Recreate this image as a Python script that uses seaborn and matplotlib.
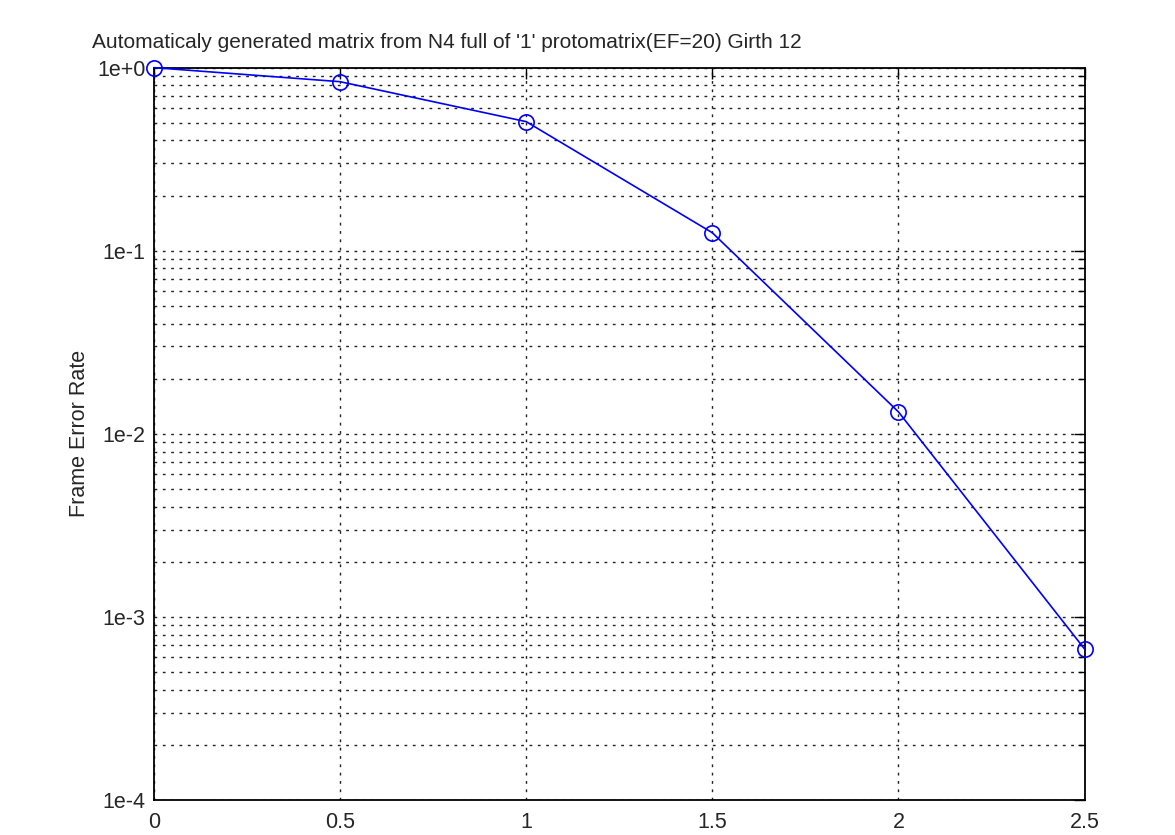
import numpy as np
import pandas as pd
import matplotlib
matplotlib.use('Agg')
import matplotlib.pyplot as plt
import seaborn as sns
from matplotlib.ticker import LogLocator, FixedLocator, FuncFormatter, NullFormatter


# FER curve
snr = [0.0, 0.5, 1.0, 1.5, 2.0, 2.5]
fer = [1.0, 0.838, 0.507, 0.1254, 0.01318, 6.68e-4]

title = "Automaticaly generated matrix from N4 full of '1' protomatrix(EF=20) Girth 12"
y_name = 'Frame Error Rate'

sns.set_style('white')
plt.rcParams['font.family'] = ['Liberation Sans', 'DejaVu Sans']

data = pd.DataFrame({'snr': snr, 'fer': fer})

fig = plt.figure(figsize=(11.75, 8.35), dpi=100)
ax = fig.add_axes([0.131, 0.042, 0.792, 0.877])

sns.lineplot(x='snr', y='fer', data=data, ax=ax, color='blue', linewidth=1.2,
             marker='o', markersize=11, markerfacecolor='none',
             markeredgecolor='blue', markeredgewidth=1.2, zorder=3, clip_on=False)

ax.set_yscale('log')
ax.set_xlim(0, 2.5)
ax.set_ylim(1e-4, 1)
ax.xaxis.set_major_locator(FixedLocator([0, 0.5, 1, 1.5, 2, 2.5]))
ax.xaxis.set_major_formatter(FuncFormatter(lambda v, p: '%g' % v))
ax.yaxis.set_major_locator(LogLocator(base=10, numticks=10))
ax.yaxis.set_minor_locator(LogLocator(base=10, subs=np.arange(2, 10), numticks=20))
ax.yaxis.set_major_formatter(FuncFormatter(lambda v, p: '1e%+d' % int(round(np.log10(v)))))
ax.yaxis.set_minor_formatter(NullFormatter())

ax.grid(True, which='both', axis='y', color='#222222', linestyle=(0, (2, 4)), linewidth=1.0)
ax.grid(True, which='major', axis='x', color='#222222', linestyle=(0, (2, 4)), linewidth=1.0)

ax.tick_params(which='both', direction='in', top=True, right=True, labelsize=15.5, color='black')
ax.tick_params(which='major', length=8, width=1)
ax.tick_params(which='minor', length=5, width=1)
ax.tick_params(axis='x', pad=9)
ax.tick_params(axis='y', pad=6)
for s in ax.spines.values():
    s.set_visible(True)
    s.set_color('black')
    s.set_linewidth(1.3)

ax.set_xlabel('')
ax.set_ylabel(y_name, fontsize=15.5, labelpad=5)
ax.set_title(title, fontsize=15, loc='left', x=-0.067, pad=14)

fig.savefig('out.png', dpi=100)
